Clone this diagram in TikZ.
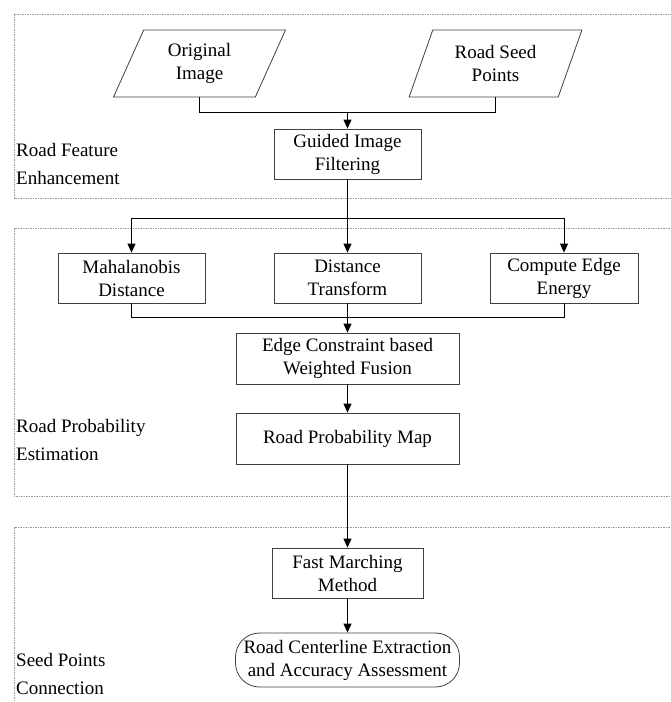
\documentclass[tikz,border=0pt]{standalone}
\usepackage{fontspec}
\setmainfont{Liberation Serif}
\usetikzlibrary{shapes.geometric,arrows.meta}
\begin{document}
\begin{tikzpicture}[x=1pt,y=-1pt,
  every node/.style={font=\fontsize{19}{23}\selectfont},
  box/.style={draw=black!75,line width=0.8pt,align=center,inner sep=0pt,minimum height=50pt},
  para/.style={draw=black!75,line width=0.8pt,align=center,trapezium,trapezium left angle=67,trapezium right angle=113,trapezium stretches=true,minimum width=173pt,minimum height=67pt,inner sep=0pt},
  term/.style={draw=black!75,line width=0.8pt,align=center,rounded corners=24pt,inner sep=0pt,minimum height=54pt},
  group/.style={draw=black!40,line width=0.6pt,dash pattern=on 1.5pt off 1pt},
  lbl/.style={anchor=west,align=left,inner sep=0pt,font=\fontsize{19}{28}\selectfont},
  conn/.style={draw=black,line width=0.9pt},
  arr/.style={conn,-{Triangle[length=9pt,width=8pt]}}]
\useasboundingbox (0,0) rectangle (671,702);
\clip (0,0) rectangle (671,702);
% group boxes
\draw[group] (14,14) rectangle (720,198);
\draw[group] (14,228) rectangle (720,496);
\draw[group] (14,527) rectangle (720,760);
\node[lbl] (l1) at (16,164) {Road Feature\\Enhancement};
\node[lbl] (l2) at (16,439.5) {Road Probability\\Estimation};
\node[lbl] (l3) at (16,674) {Seed Points\\Connection};
% nodes
\node[para] (orig) at (199.5,63.5) {Original\\Image};
\node[para] (seed) at (495.5,63.5) {Road Seed\\Points};
\node[box,minimum width=147pt] (gif) at (347.5,154) {Guided Image\\Filtering};
\node[box,minimum width=147pt] (maha) at (131.5,278) {Mahalanobis\\Distance};
\node[box,minimum width=147pt] (dt) at (347.5,278) {Distance\\Transform};
\node[box,minimum width=148pt] (cee) at (564,278) {Compute Edge\\Energy};
\node[box,minimum width=223pt,minimum height=51pt] (ecwf) at (347.5,358.5) {Edge Constraint based\\Weighted Fusion};
\node[box,minimum width=223pt,minimum height=51pt] (rpm) at (347.5,438.5) {Road Probability Map};
\node[box,minimum width=151pt] (fmm) at (347.5,573) {Fast Marching\\Method};
\node[term,minimum width=224pt] (rce) at (347.5,660) {Road Centerline Extraction\\and Accuracy Assessment};
% junctions
\coordinate (j1) at (347.5,112);
\coordinate (j2) at (347.5,218);
\coordinate (j3) at (347.5,317);
% connectors
\draw[conn] (orig.south) -- (orig.south |- j1) -- (seed.south |- j1) -- (seed.south);
\draw[arr] (j1) -- (gif.north);
\draw[arr] (gif.south) -- (dt.north);
\draw[arr] (j2) -| (maha.north);
\draw[arr] (j2) -| (cee.north);
\draw[conn] (maha.south) -- (maha.south |- j3) -- (cee.south |- j3) -- (cee.south);
\draw[arr] (dt.south) -- (ecwf.north);
\draw[arr] (ecwf.south) -- (rpm.north);
\draw[arr] (rpm.south) -- (fmm.north);
\draw[arr] (fmm.south) -- (rce.north);
\end{tikzpicture}
\end{document}
